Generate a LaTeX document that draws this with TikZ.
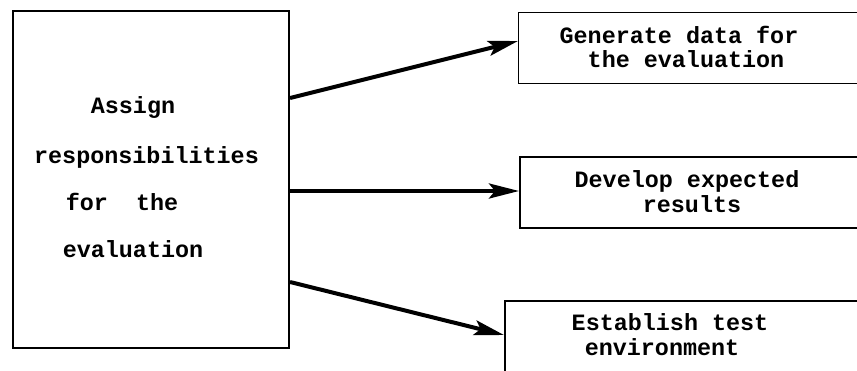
\documentclass[tikz,border=0pt]{standalone}
\usepackage{fontspec}
\setmonofont{Liberation Mono}
\usetikzlibrary{arrows.meta}
\tikzset{
  boxstyle/.style={draw, line width=1pt, inner sep=0pt, anchor=north west},
  txt/.style={font=\fontsize{11.7}{14}\selectfont\ttfamily\bfseries, inner sep=0pt, anchor=base},
  conn/.style={line width=2pt, -{Stealth[length=15pt,width=7.5pt,inset=3pt]}}
}
\begin{document}
\begin{tikzpicture}[x=0.5pt,y=-0.5pt]
\useasboundingbox (0,0) rectangle (857,370);
\clip (0,0) rectangle (857,370);
% boxes
\node[boxstyle, minimum width=138pt, minimum height=168.5pt] (L) at (12,10) {};
\node[boxstyle, line width=0.7pt, minimum width=200pt, minimum height=35.5pt] (B1) at (518,12) {};
\node[boxstyle, minimum width=200pt, minimum height=35.5pt] (B2) at (519,156) {};
\node[boxstyle, minimum width=200pt, minimum height=60pt] (B3) at (504,300) {};
% left text
\node[txt] (t1) at (133,113) {Assign};
\node[txt] (t2) at (146.5,163) {responsibilities};
\node[txt] (t3) at (122,210) {for\ \ the};
\node[txt] (t4) at (133,257) {evaluation};
% box texts
\node[txt] (g1) at (679,43) {Generate data for};
\node[txt] (g2) at (686,67) {the evaluation};
\node[txt] (d1) at (687,187) {Develop expected};
\node[txt] (d2) at (692,212) {results};
\node[txt] (e1) at (670,330) {Establish test};
\node[txt] (e2) at (662,355) {environment};
% connectors
\coordinate (s1) at (L.north east |- 0,98);
\coordinate (s2) at (L.north east |- 0,191);
\coordinate (s3) at (L.north east |- 0,282);
\coordinate (e1c) at (B1.north west |- 0,41);
\coordinate (e2c) at (B2.north west |- 0,191);
\coordinate (e3c) at (B3.north west |- 0,335);
\draw[conn] (s1) -- (e1c);
\draw[conn] (s2) -- (e2c);
\draw[conn] (s3) -- (e3c);
\end{tikzpicture}
\end{document}
